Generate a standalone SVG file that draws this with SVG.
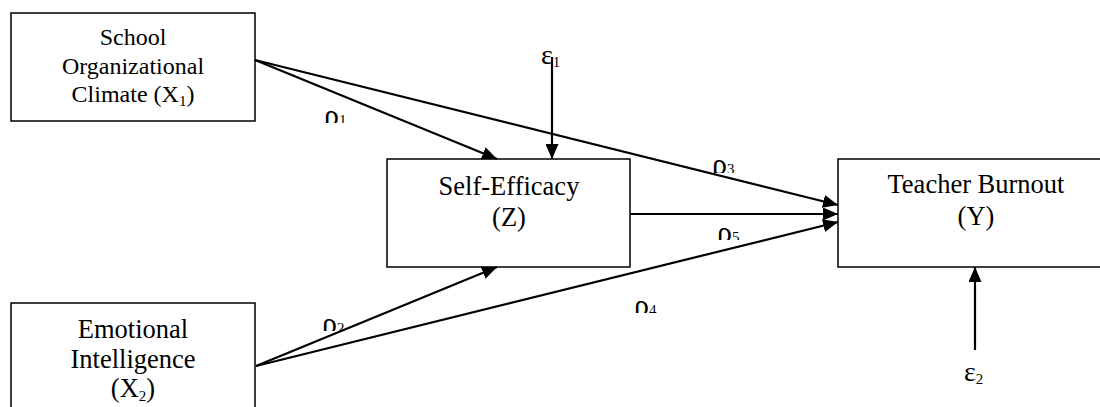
<svg xmlns="http://www.w3.org/2000/svg" width="1100" height="407" viewBox="0 0 1100 407">
<style>
.box{fill:#fff;stroke:#000;stroke-width:1.5}
.t{font-family:"Liberation Serif","Times New Roman",serif;font-size:24px;fill:#000;text-anchor:middle}
.big{font-size:26.5px}
.lbl{font-family:"Liberation Serif","Times New Roman",serif;font-size:30px;fill:#000}
.eps{font-size:28px}
.sub{font-size:15px}
.c{stroke:#000;stroke-width:2.2;fill:none;marker-end:url(#ah)}
</style>
<defs>
<marker id="ah" viewBox="0 0 15 13" refX="15" refY="6.5" markerWidth="15" markerHeight="13" markerUnits="userSpaceOnUse" orient="auto">
<path d="M0,0 L15,6.5 L0,13 Z" fill="#000"/>
</marker>
<clipPath id="c1"><rect x="310" y="100" width="50" height="23"/></clipPath>
<clipPath id="c3"><rect x="700" y="145" width="50" height="28"/></clipPath>
<clipPath id="c5"><rect x="700" y="220" width="50" height="20"/></clipPath>
<clipPath id="c2"><rect x="310" y="305" width="50" height="26"/></clipPath>
<clipPath id="c4"><rect x="620" y="290" width="50" height="23"/></clipPath>
</defs>
<g id="x1">
<rect class="box" x="11" y="13" width="244" height="108"/>
<text class="t" x="133" y="45">School</text>
<text class="t" x="133" y="74">Organizational</text>
<text class="t" x="133" y="102">Climate (X<tspan class="sub" dy="4">1</tspan><tspan dy="-4">)</tspan></text>
</g>
<g id="x2">
<rect class="box" x="11" y="303" width="244" height="120"/>
<text class="t big" x="133" y="338">Emotional</text>
<text class="t big" x="133" y="368">Intelligence</text>
<text class="t big" x="133" y="397">(X<tspan class="sub" dy="4">2</tspan><tspan dy="-4">)</tspan></text>
</g>
<g id="z">
<rect class="box" x="387" y="159" width="243" height="108"/>
<text class="t big" x="509" y="195">Self-Efficacy</text>
<text class="t big" x="509" y="226">(Z)</text>
</g>
<g id="y">
<rect class="box" x="838" y="159" width="290" height="108"/>
<text class="t big" x="976" y="193">Teacher Burnout</text>
<text class="t big" x="976" y="225">(Y)</text>
</g>
<g id="e1">
<text class="lbl eps" x="541" y="64">ε<tspan class="sub" dy="3">1</tspan></text>
</g>
<g id="e2">
<text class="lbl eps" x="964" y="381">ε<tspan class="sub" dy="3">2</tspan></text>
</g>
<g id="connectors">
<line class="c" x1="255" y1="60" x2="497" y2="159"/>
<line class="c" x1="255" y1="60" x2="838" y2="205"/>
<line class="c" x1="630" y1="214" x2="838" y2="214"/>
<line class="c" x1="256" y1="366" x2="497" y2="267"/>
<line class="c" x1="256" y1="366" x2="838" y2="222"/>
<line class="c" x1="552" y1="57" x2="552" y2="159"/>
<line class="c" x1="975" y1="350" x2="975" y2="267"/>
</g>
<g id="labels">
<text class="lbl" x="324" y="125" clip-path="url(#c1)">ρ<tspan class="sub">1</tspan></text>
<text class="lbl" x="712" y="174" clip-path="url(#c3)">ρ<tspan class="sub">3</tspan></text>
<text class="lbl" x="717" y="242" clip-path="url(#c5)">ρ<tspan class="sub">5</tspan></text>
<text class="lbl" x="322" y="333" clip-path="url(#c2)">ρ<tspan class="sub">2</tspan></text>
<text class="lbl" x="634" y="315" clip-path="url(#c4)">ρ<tspan class="sub">4</tspan></text>
</g>
</svg>
